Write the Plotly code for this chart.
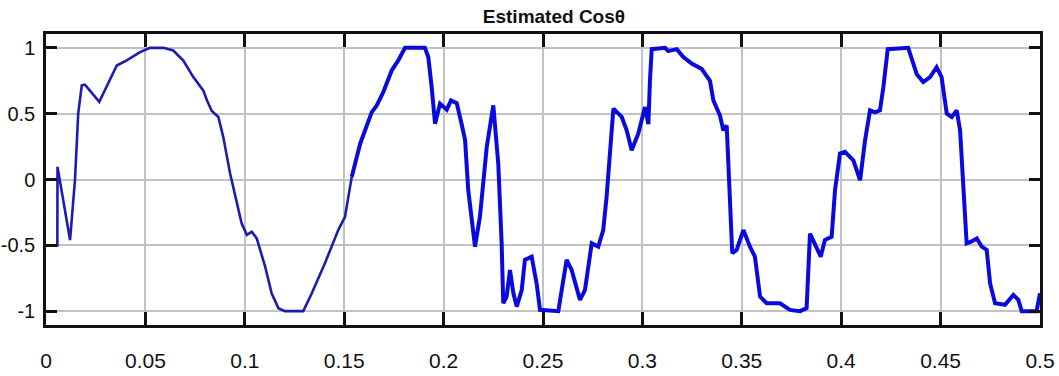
import plotly.graph_objects as go

# Time axis (s) and estimated power-factor angle cosine
t = [0.0, 0.0057, 0.0058, 0.0121, 0.0146, 0.0162, 0.0180, 0.0196, 0.0268, 0.0313,
     0.0356, 0.0406, 0.0473, 0.0523, 0.0590, 0.0640, 0.0691, 0.0741, 0.0791, 0.0810,
     0.0834, 0.0867, 0.0892, 0.0926, 0.0959, 0.0984, 0.1010, 0.1035, 0.1060, 0.1102,
     0.1135, 0.1169, 0.1202, 0.1294, 0.1337, 0.1403, 0.1470, 0.1504, 0.1538, 0.1580,
     0.1638, 0.1663, 0.1697, 0.1739, 0.1772, 0.1806, 0.1906, 0.1923, 0.1940, 0.1957,
     0.1982, 0.2016, 0.2037, 0.2066, 0.2091, 0.2108, 0.2124, 0.2141, 0.2158, 0.2183,
     0.2217, 0.2250, 0.2275, 0.2292, 0.2300, 0.2317, 0.2334, 0.2351, 0.2368, 0.2393,
     0.2409, 0.2443, 0.2468, 0.2485, 0.2577, 0.2594, 0.2619, 0.2644, 0.2686, 0.2711,
     0.2745, 0.2778, 0.2803, 0.2820, 0.2837, 0.2854, 0.2896, 0.2921, 0.2946, 0.2979,
     0.3013, 0.3030, 0.3038, 0.3047, 0.3114, 0.3130, 0.3173, 0.3206, 0.3248, 0.3298,
     0.3340, 0.3357, 0.3390, 0.3407, 0.3424, 0.3432, 0.3441, 0.3452, 0.3474, 0.3508,
     0.3541, 0.3566, 0.3592, 0.3625, 0.3692, 0.3742, 0.3793, 0.3826, 0.3843, 0.3868,
     0.3897, 0.3918, 0.3952, 0.3969, 0.3994, 0.4019, 0.4061, 0.4095, 0.4120, 0.4145,
     0.4170, 0.4195, 0.4212, 0.4234, 0.4337, 0.4380, 0.4413, 0.4447, 0.4480, 0.4505,
     0.4531, 0.4556, 0.4581, 0.4598, 0.4614, 0.4631, 0.4656, 0.4682, 0.4707, 0.4732,
     0.4749, 0.4774, 0.4824, 0.4866, 0.4891, 0.4908, 0.4983, 0.5000]

cos_theta = [-0.5, -0.5, 0.096, -0.46, 0.0, 0.5, 0.715, 0.72, 0.59, 0.727,
             0.866, 0.904, 0.967, 1.0, 1.0, 0.98, 0.904, 0.778, 0.677, 0.6,
             0.52, 0.475, 0.32, 0.045, -0.18, -0.333, -0.42, -0.397, -0.447, -0.66,
             -0.864, -0.977, -1.0, -1.0, -0.864, -0.636, -0.384, -0.283, 0.02, 0.27,
             0.51, 0.56, 0.664, 0.828, 0.904, 1.0, 1.0, 0.93, 0.70, 0.424,
             0.576, 0.53, 0.6, 0.58, 0.42, 0.3, -0.08, -0.28, -0.51, -0.28,
             0.247, 0.563, 0.12, -0.485, -0.94, -0.89, -0.687, -0.864, -0.965, -0.84,
             -0.61, -0.586, -0.79, -0.99, -1.0, -0.84, -0.61, -0.687, -0.914, -0.84,
             -0.485, -0.51, -0.384, -0.13, 0.247, 0.538, 0.475, 0.374, 0.222, 0.348,
             0.55, 0.42, 0.75, 0.99, 1.0, 0.975, 0.99, 0.93, 0.88, 0.84,
             0.75, 0.6, 0.487, 0.374, 0.41, 0.17, -0.13, -0.56, -0.535, -0.384,
             -0.51, -0.586, -0.89, -0.94, -0.94, -0.99, -1.0, -0.977, -0.41, -0.485,
             -0.586, -0.46, -0.434, -0.08, 0.197, 0.21, 0.146, -0.005, 0.298, 0.525,
             0.51, 0.525, 0.70, 0.99, 1.0, 0.80, 0.74, 0.778, 0.853, 0.778,
             0.5, 0.475, 0.525, 0.374, 0.0, -0.485, -0.47, -0.447, -0.51, -0.535,
             -0.79, -0.94, -0.952, -0.876, -0.914, -1.0, -1.0, -0.864]

x_ticks = [0, 0.05, 0.1, 0.15, 0.2, 0.25, 0.3, 0.35, 0.4, 0.45, 0.5]
x_tick_text = ["0", "0.05", "0.1", "0.15", "0.2", "0.25", "0.3", "0.35", "0.4", "0.45", "0.5"]
y_ticks = [-1, -0.5, 0, 0.5, 1]
y_tick_text = ["-1", "-0.5", "0", "0.5", "1"]

# the smooth start of the signal is drawn thinner than the rippling remainder
split = 38

fig = go.Figure()
fig.add_trace(go.Scatter(x=t[:split + 1], y=cos_theta[:split + 1], mode="lines",
                         line=dict(color="#1c1cb0", width=2.6), showlegend=False))
fig.add_trace(go.Scatter(x=t[split:], y=cos_theta[split:], mode="lines",
                         line=dict(color="#0a0ae0", width=4), showlegend=False))

font_family = "Liberation Sans Narrow, Arial Narrow, Liberation Sans, sans-serif"
x_tick_font = dict(family=font_family, size=21, color="#111111")
y_tick_font = dict(family=font_family, size=20, color="#111111")

fig.update_layout(
    width=1059, height=376,
    margin=dict(l=46, r=19, t=34, b=51),
    paper_bgcolor="white", plot_bgcolor="white",
    title=dict(text="<b>Estimated Cosθ</b>", x=0.511, xref="paper", xanchor="center",
               y=1, yref="container", yanchor="top", pad=dict(t=10),
               font=dict(family=font_family, size=19, color="#111111")),
)
fig.update_xaxes(
    range=[0, 0.5], tickvals=x_ticks, ticktext=x_tick_text, automargin=False,
    showgrid=True, gridcolor="#c2c2c2", gridwidth=2,
    showline=True, linecolor="#111111", linewidth=2.5, mirror="allticks",
    ticks="inside", ticklen=13, tickwidth=2.5, tickcolor="#111111",
    tickfont=x_tick_font, ticklabelstandoff=15, zeroline=False,
)
fig.update_yaxes(
    range=[-1.105, 1.105], tickvals=y_ticks, ticktext=y_tick_text, automargin=False,
    showgrid=True, gridcolor="#c2c2c2", gridwidth=2,
    showline=True, linecolor="#111111", linewidth=2.5, mirror="allticks",
    ticks="inside", ticklen=11, tickwidth=2.5, tickcolor="#111111",
    tickfont=y_tick_font, ticklabelstandoff=4, zeroline=False,
)

fig.write_html("out.html")
